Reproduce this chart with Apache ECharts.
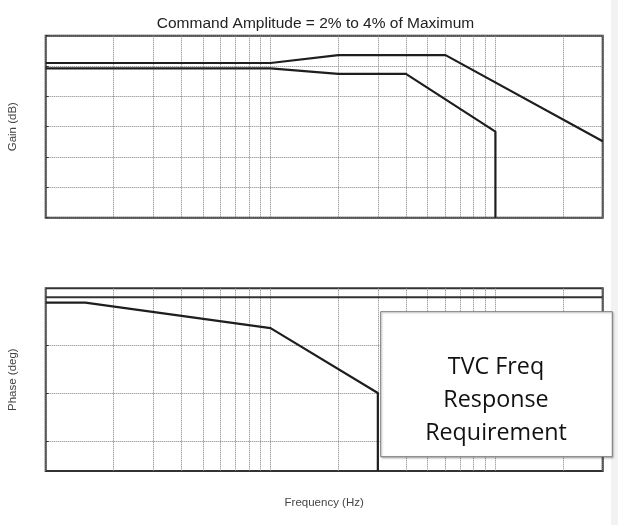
<!DOCTYPE html>
<html><head><meta charset="utf-8">
<script src="https://cdn.jsdelivr.net/npm/echarts@6/dist/echarts.min.js"></script>
<style>html,body{margin:0;padding:0;background:#fff}#c{width:618px;height:525px}</style>
</head><body><div id="c"></div>
<script>
const titleText = 'Command Amplitude = 2% to 4% of Maximum';
const boxText = ['TVC Freq', 'Response', 'Requirement'];
const freqRange = [1, 300];
const freqGridTicks = [1,2,3,4,5,6,7,8,9,10,20,30,40,50,60,70,80,90,100,200,300];
const gainRange = [-25, 5];
const gainInterval = 5;
const phaseRange = [-163.4, 8.5];
const phaseGridTicks = [-135, -90, -45, 0];

const gainUpperFreq = [1, 10, 20, 60, 300];
const gainUpperDb  = [0.5, 0.5, 1.8, 1.8, -12.4];
const gainLowerFreq = [1, 10, 20, 40, 100, 100];
const gainLowerDb  = [-0.4, -0.4, -1.3, -1.3, -10.8, -25];
const phaseFreq = [1, 1.5, 10, 30, 30];
const phaseDeg  = [-5, -5, -29, -90, -163.4];
const phaseRefFreq = [1, 300];
const phaseRefDeg  = [0, 0];

const zip = (a, b) => a.map((v, i) => [v, b[i]]);
const gridLine = { show: true, lineStyle: { type: 'dotted', color: '#808080', width: 1 } };
const lineStyle = { color: '#1e1e1e', width: 2.2 };
const nameStyle = { fontFamily: 'Liberation Sans', fontSize: 11.5, color: '#444' };

const chart = echarts.init(document.getElementById('c'), null, { renderer: 'canvas' });
chart.setOption({
  backgroundColor: '#fff',
  animation: false,
  title: {
    text: titleText, left: 310.5, top: 11, textAlign: 'center',
    textStyle: { fontFamily: 'Liberation Sans', fontSize: 15.5, fontWeight: 'normal', color: '#222' }
  },
  grid: [
    { left: 45.7, top: 35.7, width: 557, height: 182, show: true, borderColor: '#333', borderWidth: 2, outerBoundsMode: 'none', containLabel: false },
    { left: 45.7, top: 288.3, width: 557, height: 182.7, show: true, borderColor: '#333', borderWidth: 2, outerBoundsMode: 'none', containLabel: false }
  ],
  xAxis: [
    { type: 'log', logBase: 10, gridIndex: 0, min: freqRange[0], max: freqRange[1],
      axisLabel: { show: false }, axisLine: { show: false },
      axisTick: { show: false, customValues: freqGridTicks }, splitLine: gridLine },
    { type: 'log', logBase: 10, gridIndex: 1, min: freqRange[0], max: freqRange[1],
      name: 'Frequency (Hz)', nameLocation: 'middle', nameGap: 26, nameTextStyle: nameStyle,
      axisLabel: { show: false }, axisLine: { show: false },
      axisTick: { show: false, customValues: freqGridTicks }, splitLine: gridLine }
  ],
  yAxis: [
    { type: 'value', gridIndex: 0, min: gainRange[0], max: gainRange[1], interval: gainInterval,
      name: 'Gain (dB)', nameLocation: 'middle', nameGap: 27, nameTextStyle: nameStyle,
      axisLabel: { show: false }, axisLine: { show: false },
      axisTick: { show: true, inside: true, length: 3, lineStyle: { color: '#333' } }, splitLine: gridLine },
    { type: 'value', gridIndex: 1, min: phaseRange[0], max: phaseRange[1],
      name: 'Phase (deg)', nameLocation: 'middle', nameGap: 27, nameTextStyle: nameStyle,
      axisLabel: { show: false }, axisLine: { show: false },
      axisTick: { show: true, inside: true, length: 3, lineStyle: { color: '#333' }, customValues: phaseGridTicks },
      splitLine: gridLine }
  ],
  series: [
    { type: 'line', xAxisIndex: 0, yAxisIndex: 0, data: zip(gainUpperFreq, gainUpperDb), showSymbol: false, lineStyle },
    { type: 'line', xAxisIndex: 0, yAxisIndex: 0, data: zip(gainLowerFreq, gainLowerDb), showSymbol: false, lineStyle },
    { type: 'line', xAxisIndex: 1, yAxisIndex: 1, data: zip(phaseRefFreq, phaseRefDeg), showSymbol: false, lineStyle: { color: '#333', width: 2 } },
    { type: 'line', xAxisIndex: 1, yAxisIndex: 1, data: zip(phaseFreq, phaseDeg), showSymbol: false, lineStyle }
  ],
  graphic: [
    { type: 'rect', x: 611, y: 0, shape: { width: 7, height: 525 }, style: { fill: '#f2f2f2' }, silent: true, z: 0 },
    { type: 'rect', x: 380.7, y: 311.7, z: 100,
      shape: { width: 231.6, height: 145 },
      style: { fill: '#fff', stroke: '#7a7a7a', lineWidth: 1, shadowBlur: 2, shadowColor: 'rgba(0,0,0,0.25)', shadowOffsetX: 1, shadowOffsetY: 1 } },
    { type: 'text', x: 496, y: 400, z: 101,
      style: { text: boxText.join('\n'), fontFamily: 'Open Sans', fontSize: 23.3, lineHeight: 33,
               fill: '#111', align: 'center', verticalAlign: 'middle' } }
  ]
});
</script></body></html>
